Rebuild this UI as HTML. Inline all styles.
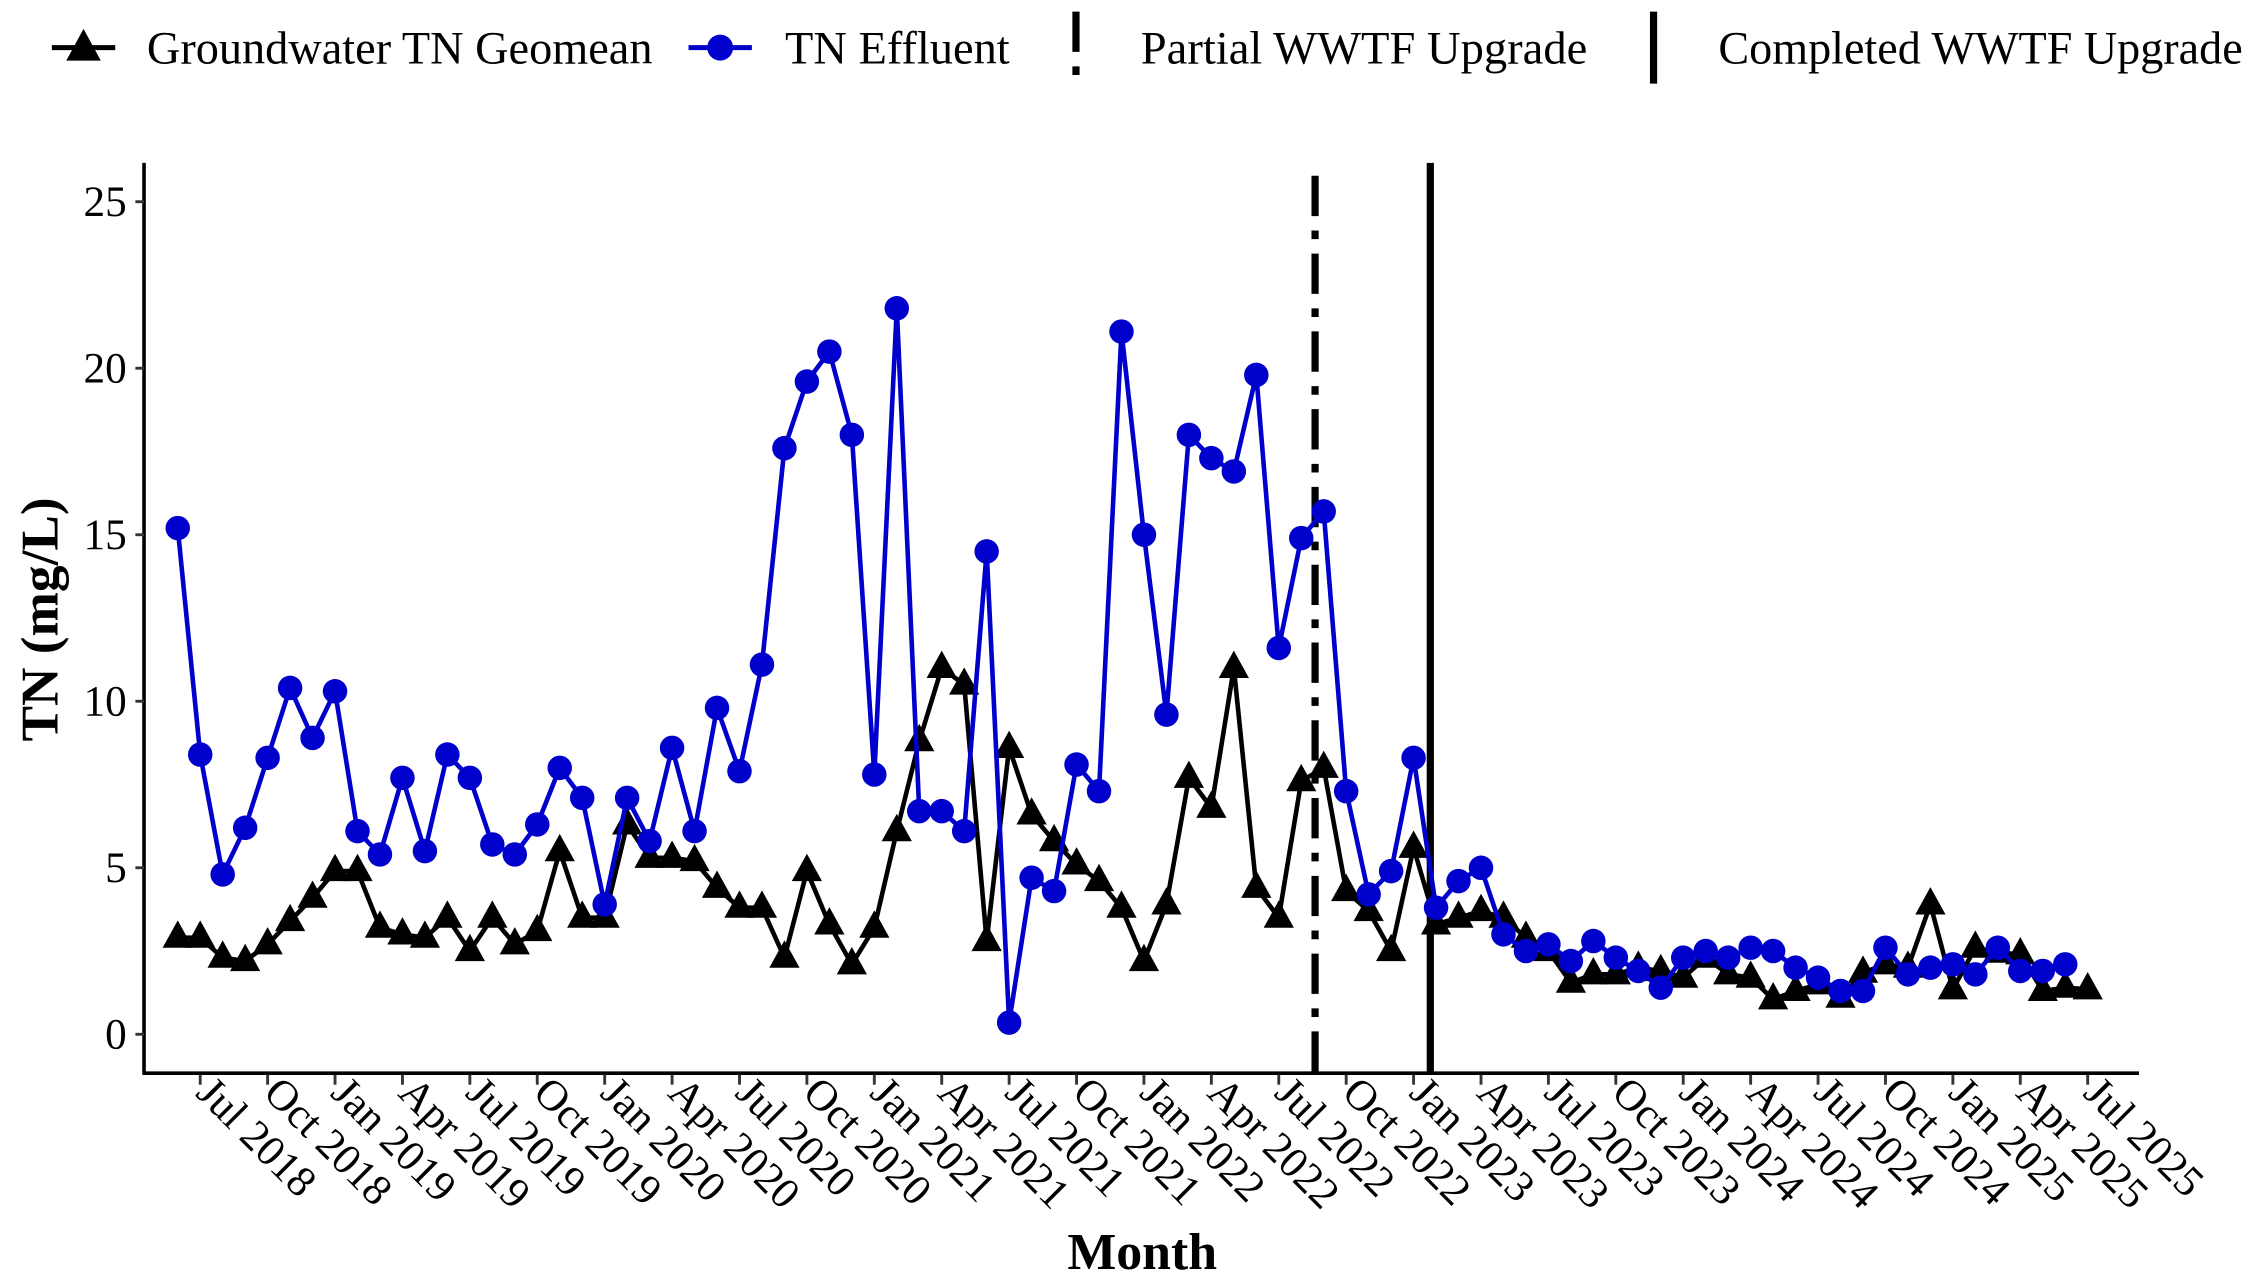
<!DOCTYPE html>
<html><head><meta charset="utf-8"><style>html,body{margin:0;padding:0;background:#fff}svg{display:block}</style></head>
<body>
<svg id="s" width="2247" height="1272" viewBox="0 0 1560 883" xmlns="http://www.w3.org/2000/svg" font-family="Liberation Serif, serif">
<rect width="1560" height="883" fill="#fff"/>
<g id="g"></g>
</svg>
<script>
const ns="http://www.w3.org/2000/svg",g=document.getElementById("g");
function el(t,a,txt){const e=document.createElementNS(ns,t);for(const k in a)e.setAttribute(k,a[k]);if(txt!=null)e.textContent=txt;g.appendChild(e);return e;}
const Y=v=>718-23.12*v, X=i=>139+15.6*i;
// legend
el("line",{x1:36,y1:33,x2:80,y2:33,stroke:"#000","stroke-width":3.5});
el("polygon",{points:"58,20 70,42 46,42",fill:"#000"});
el("text",{x:102,y:44,"font-size":32,textLength:351,lengthAdjust:"spacingAndGlyphs"},"Groundwater TN Geomean");
el("line",{x1:478,y1:33,x2:522,y2:33,stroke:"#0000cc","stroke-width":3.5});
el("circle",{cx:500,cy:33,r:9,fill:"#0000cc"});
el("text",{x:545,y:44,"font-size":32,textLength:156,lengthAdjust:"spacingAndGlyphs"},"TN Effluent");
el("line",{x1:747,y1:8,x2:747,y2:58,stroke:"#000","stroke-width":5,"stroke-dasharray":"28,10,6,10"});
el("text",{x:792,y:44,"font-size":32,textLength:310,lengthAdjust:"spacingAndGlyphs"},"Partial WWTF Upgrade");
el("line",{x1:1148,y1:8,x2:1148,y2:58,stroke:"#000","stroke-width":5});
el("text",{x:1193,y:44,"font-size":32,textLength:364,lengthAdjust:"spacingAndGlyphs"},"Completed WWTF Upgrade");
// axes
el("line",{x1:100,y1:113,x2:100,y2:746,stroke:"#000","stroke-width":2.5});
el("line",{x1:99,y1:745,x2:1485,y2:745,stroke:"#000","stroke-width":2.5});
[0,5,10,15,20,25].forEach(v=>{el("line",{x1:94,y1:Y(v),x2:100,y2:Y(v),stroke:"#333","stroke-width":2});
el("text",{x:88,y:Y(v)+10,"font-size":30,"text-anchor":"end"},String(v));});
const mn=["Jul","Oct","Jan","Apr"];
for(let q=0;q<=28;q++){const x=X(q*3);el("line",{x1:x,y1:746,x2:x,y2:753,stroke:"#333","stroke-width":2});
const yr=2018+Math.floor((q+2)/4);
el("text",{x:0,y:0,"font-size":30,transform:`translate(${x-4},${760}) rotate(45)`},mn[q%4]+" "+yr);}
el("text",{x:793,y:881,"font-size":36,"font-weight":"bold","text-anchor":"middle"},"Month");
el("text",{x:0,y:0,"font-size":37,"font-weight":"bold","text-anchor":"middle",transform:"translate(40,430) rotate(-90)"},"TN (mg/L)");
// vlines
el("line",{x1:913,y1:122,x2:913,y2:745,stroke:"#000","stroke-width":5,"stroke-dasharray":"28,10,6,10"});
el("line",{x1:993,y1:113,x2:993,y2:745,stroke:"#000","stroke-width":5});
const eff=[15.2,8.4,4.8,6.2,8.3,10.4,8.9,10.3,6.1,5.4,7.7,5.5,8.4,7.7,5.7,5.4,6.3,8.0,7.1,3.9,7.1,5.8,8.6,6.1,9.8,7.9,11.1,17.6,19.6,20.5,18.0,7.8,21.8,6.7,6.7,6.1,14.5,0.35,4.7,4.3,8.1,7.3,21.1,15.0,9.6,18.0,17.3,16.9,19.8,11.6,14.9,15.7,7.3,4.2,4.9,8.3,3.8,4.6,5.0,3.0,2.5,2.7,2.2,2.8,2.3,1.9,1.4,2.3,2.5,2.3,2.6,2.5,2.0,1.7,1.3,1.3,2.6,1.8,2.0,2.1,1.8,2.6,1.9,1.9,2.1];
const gw=[2.9,2.9,2.3,2.2,2.7,3.4,4.1,4.9,4.9,3.2,3.0,2.9,3.5,2.5,3.5,2.7,3.1,5.5,3.5,3.5,6.3,5.3,5.3,5.2,4.4,3.8,3.8,2.3,4.9,3.3,2.1,3.2,6.1,8.8,11.0,10.5,2.8,8.6,6.6,5.8,5.1,4.6,3.8,2.2,3.9,7.7,6.8,11.0,4.4,3.5,7.6,8.0,4.3,
3.7,2.5,5.6,3.3,3.5,3.7,3.5,2.9,2.5,1.55,1.8,1.8,2.0,1.9,1.7,2.3,1.8,1.7,1.05,1.3,1.5,1.1,1.85,2.1,2.0,3.9,1.35,2.6,2.45,2.4,1.3,1.4,1.35];
el("polyline",{points:gw.map((v,i)=>X(i-1)+","+Y(v)).join(" "),fill:"none",stroke:"#000","stroke-width":3.2,"stroke-linejoin":"round"});
gw.forEach((v,i)=>{const x=X(i-1),y=Y(v);el("polygon",{points:`${x},${y-12} ${x+10.5},${y+7} ${x-10.5},${y+7}`,fill:"#000"});});
el("polyline",{points:eff.map((v,i)=>X(i-1)+","+Y(v)).join(" "),fill:"none",stroke:"#0000cc","stroke-width":3.2,"stroke-linejoin":"round"});
eff.forEach((v,i)=>el("circle",{cx:X(i-1),cy:Y(v),r:8.5,fill:"#0000cc"}));
</script>
</body></html>
